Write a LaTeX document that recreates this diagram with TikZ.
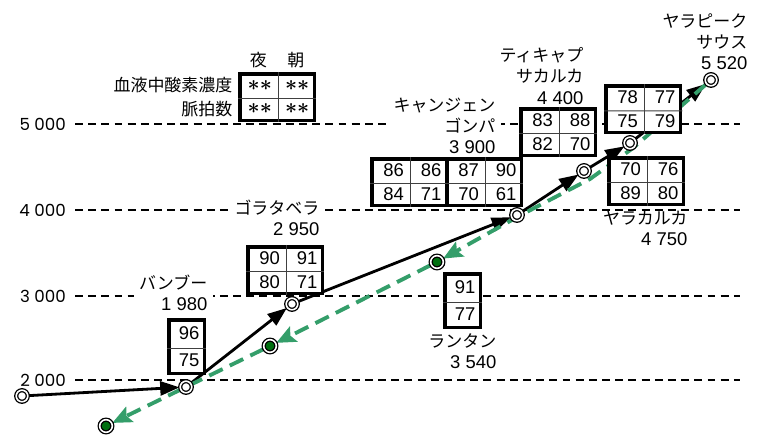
\documentclass[tikz,border=0pt]{standalone}
\usepackage{fontspec}
\setmainfont{Liberation Sans}
\newfontfamily\jp[Scale=0.92]{Noto Sans CJK JP}
\newfontfamily\axisfont{Poppins}
\usetikzlibrary{positioning,matrix,arrows.meta}
\definecolor{routegreen}{RGB}{52,158,106}
\definecolor{campgreen}{RGB}{0,112,16}
\pgfdeclarelayer{bg}
\pgfsetlayers{bg,main}
\newcommand{\crossrules}[1]{%
    \draw[cellrule] (#1-1-1.north east) -- (#1-2-1.south east);
    \draw[cellrule] (#1-1-1.south west) -- (#1-1-2.south east);}
\newcommand{\colrule}[1]{%
    \draw[cellrule] (#1-1-1.south west) -- (#1-1-1.south east);}
\newcommand{\stars}{{\fontsize{12.5}{12}\selectfont\boldmath$\mathord{\ast}\mathord{\ast}$}}
\tikzset {
    camp/.style={
        circle,
        draw=black,
        line width=0.75pt,
        double=white,
        double distance=0.9pt,
        fill=white,
        minimum size=6.6pt,
        inner sep=0pt,
    },
    camp green/.style={
        camp,
        fill=campgreen,
        minimum size=7.2pt,
    },
    gridline/.style={black, line width=0.9pt, dash pattern=on 4.5pt off 3pt},
    ascent/.style={black, line width=1.6pt, -{Triangle[length=11pt,width=8pt]}},
    descent/.style={
        routegreen,
        line width=2.2pt,
        dash pattern=on 8.5pt off 4.5pt,
        -{Stealth[length=11pt,width=9.5pt,inset=2pt]},
    },
    cell/.style={text width=15.3pt, align=right, inner xsep=3pt, inner ysep=0pt, minimum height=13.3pt},
    tall cell/.style={cell, text width=14.4pt, minimum height=15.3pt},
    valtab/.style={
        matrix of nodes,
        draw=black,
        line width=2pt,
        fill=white,
        inner sep=0pt,
        column sep=0pt,
        row sep=0pt,
        nodes={cell},
    },
    valcol/.style={valtab, nodes={tall cell}},
    cellrule/.style={black!75, line width=0.55pt},
    place/.style={align=right, fill=white, inner xsep=3pt, inner ysep=1pt},
    axislabel/.style={font=\axisfont\fontsize{9.5}{10}\selectfont, anchor=east, inner sep=1pt},
}

\begin{document}
\begin{tikzpicture}[x=0.02cm, y=-0.02cm, font=\fontsize{10.5}{12}\selectfont]
    \useasboundingbox (0,0) rectangle (758,438);

    % altitude
    \node[axislabel] (alt5) at (68,124) {5 000};
    \node[axislabel] (alt4) at (68,210) {4 000};
    \node[axislabel] (alt3) at (68,296) {3 000};
    \node[axislabel] (alt2) at (68,380) {2 000};

    % camps, way up and way down
    \node[camp] (p-start) at (22,396) {};
    \node[camp] (p-bambu) at (186,387) {};
    \node[camp] (p-gorata) at (292,304) {};
    \node[camp] (p-kyanjen) at (517,215) {};
    \node[camp] (p-tikyap) at (584,171) {};
    \node[camp] (p-yarakar) at (630,143) {};
    \node[camp] (p-peak) at (711,80) {};
    \node[camp green] (g-lantan) at (437,262) {};
    \node[camp green] (g-lama) at (270,346) {};
    \node[camp green] (g-end) at (106,426) {};
    \coordinate (d1) at (633,148);
    \coordinate (d2) at (590,179);
    \coordinate (d3) at (519,216);

    % legend
    \matrix[valtab, anchor=north west] (legend) at (238,72) {
        \stars & \stars \\
        \stars & \stars \\
    };
    \crossrules{legend}
    \node[above=1pt of legend-1-1, inner sep=1pt] (night) {\jp 夜};
    \node[above=1pt of legend-1-2, inner sep=1pt] (morning) {\jp 朝};
    \node[left=3pt of legend-1-1, inner sep=0pt] (spo2) {\jp 血液中酸素濃度};
    \node[left=3pt of legend-2-1, inner sep=0pt] (pulse) {\jp 脈拍数};

    % readings
    \matrix[valcol, anchor=north west] (t-bambu) at (167,318) {96 \\ 75 \\};
    \colrule{t-bambu}
    \matrix[valtab, anchor=north west] (t-gorata) at (246,245) {90 & 91 \\ 80 & 71 \\};
    \crossrules{t-gorata}
    \matrix[valtab, anchor=north west] (t-kyanjen-a) at (370,157) {86 & 86 \\ 84 & 71 \\};
    \crossrules{t-kyanjen-a}
    \matrix[valtab, anchor=north west] (t-kyanjen-b) at (445,157) {87 & 90 \\ 70 & 61 \\};
    \crossrules{t-kyanjen-b}
    \matrix[valtab, anchor=north west] (t-tikyap) at (519,107) {83 & 88 \\ 82 & 70 \\};
    \crossrules{t-tikyap}
    \matrix[valtab, anchor=north west] (t-peak) at (604,84) {78 & 77 \\ 75 & 79 \\};
    \crossrules{t-peak}
    \matrix[valtab, anchor=north west] (t-yarakar) at (607,156) {70 & 76 \\ 89 & 80 \\};
    \crossrules{t-yarakar}
    \matrix[valcol, anchor=north west] (t-lantan) at (443,272) {91 \\ 77 \\};
    \colrule{t-lantan}

    % place names
    \node[place, anchor=east] (l-bambu) at (213,293) {{\jp バンブー}\\1 980};
    \node[place, anchor=east] (l-gorata) at (325,218) {{\jp ゴラタベラ}\\2 950};
    \node[place, anchor=east] (l-kyanjen) at (501,126) {{\jp キャンジェン}\\{\jp ゴンパ}\\3 900};
    \node[place, anchor=east] (l-tikyap) at (589,76) {{\jp ティキャプ}\\{\jp サカルカ}\\4 400};
    \node[place, anchor=east] (l-peak) at (753,42) {{\jp ヤラピーク}\\{\jp サウス}\\5 520};
    \node[place, anchor=east, fill=none] (l-yarakar) at (693,228) {{\jp ヤラカルカ}\\4 750};
    \node[place, anchor=east] (l-lantan) at (502,351) {{\jp ランタン}\\3 540};

    \begin{pgfonlayer}{bg}
        \draw[gridline] (75,124) -- (740,124);
        \draw[gridline] (75,210) -- (740,210);
        \draw[gridline] (75,296) -- (740,296);
        \draw[gridline] (75,380) -- (740,380);

        \draw[ascent] (p-start) -- (p-bambu);
        \draw[ascent] (p-bambu) -- (p-gorata);
        \draw[ascent] (p-gorata) -- (p-kyanjen);
        \draw[ascent] (p-kyanjen) -- (p-tikyap);
        \draw[ascent] (p-tikyap) -- (p-yarakar);
        \draw[ascent] (p-yarakar) -- (p-peak);

        \draw[descent] (p-peak) -- (d1) -- (d2) -- (d3) -- (g-lantan);
        \draw[descent] (g-lantan) -- (g-lama);
        \draw[descent] (g-lama) -- (g-end);
    \end{pgfonlayer}
\end{tikzpicture}
\end{document}
